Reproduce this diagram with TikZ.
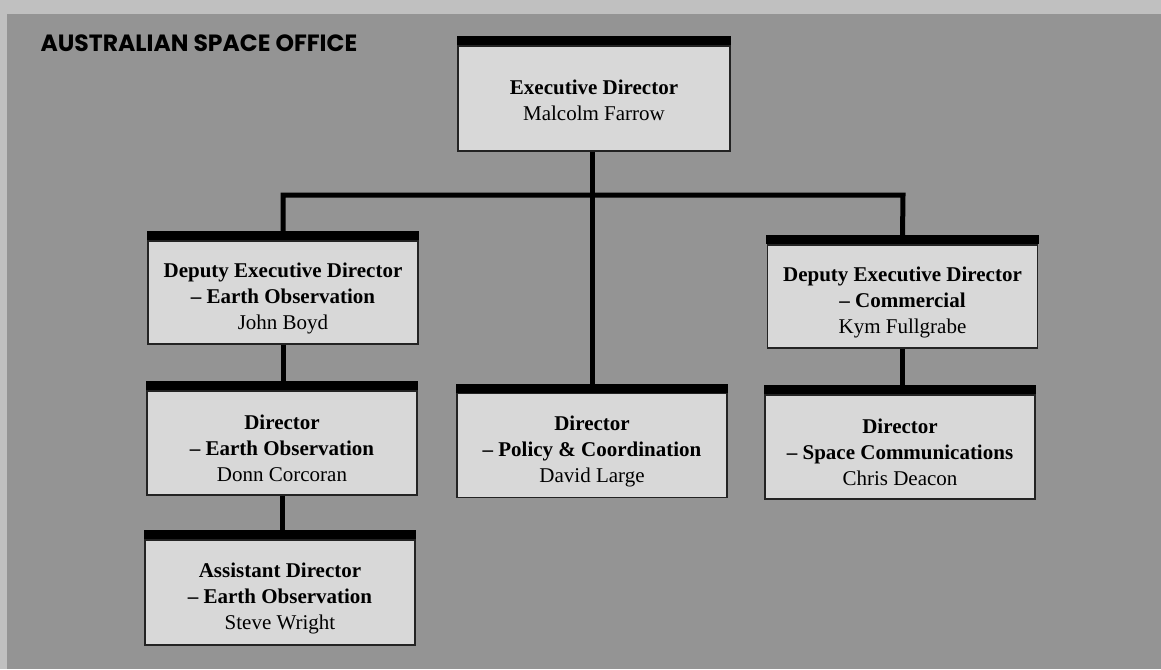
\documentclass[tikz,border=0pt]{standalone}
\usepackage{fontspec}
\setmainfont{Liberation Serif}
\newfontfamily\titlefont{Poppins}
\definecolor{panel}{RGB}{148,148,148}
\definecolor{paper}{RGB}{192,192,192}
\definecolor{boxfill}{RGB}{216,216,216}
\definecolor{boxline}{RGB}{35,35,35}
\tikzset{
  orgbox/.style={draw=boxline, line width=1.3pt, fill=boxfill, minimum width=270pt,
    minimum height=104pt, inner sep=0pt, align=center, font=\fontsize{21}{26}\selectfont},
  conn/.style={line width=5pt, black},
  topbar/.style={fill=black}
}
\newcommand{\ttl}[1]{\textbf{#1}}
\newcommand{\lowstrut}{\rule{0pt}{26pt}}
\begin{document}
\begin{tikzpicture}[x=1pt,y=-1pt]
\useasboundingbox (0,0) rectangle (1161,669);
\fill[paper] (0,0) rectangle (1161,669);
\fill[panel] (7,14) rectangle (1161,669);
\node[anchor=base west, font=\titlefont\bfseries\fontsize{23.5}{28}\selectfont] (title) at (37,52) {AUSTRALIAN SPACE OFFICE};
% boxes
\node[orgbox, minimum width=272pt, minimum height=105pt] (exec) at (594,98.5) {\rule{0pt}{18pt}\ttl{Executive Director}\\Malcolm Farrow};
\node[orgbox, minimum height=103pt] (depEO) at (283,292.5) {\lowstrut\ttl{Deputy Executive Director}\\\ttl{-- Earth Observation}\\John Boyd};
\node[orgbox, minimum height=103pt] (depCom) at (902.5,296.5) {\lowstrut\ttl{Deputy Executive Director}\\\ttl{-- Commercial}\\Kym Fullgrabe};
\node[orgbox] (dirEO) at (282,443) {\lowstrut\ttl{Director}\\\ttl{-- Earth Observation}\\Donn Corcoran};
\node[orgbox] (dirPol) at (592,445.5) {\lowstrut\ttl{Director}\\\ttl{-- Policy \& Coordination}\\David Large};
\node[orgbox] (dirSC) at (900,447) {\lowstrut\ttl{Director}\\\ttl{-- Space Communications}\\Chris Deacon};
\node[orgbox, minimum height=105pt] (asst) at (280,592.5) {\lowstrut\ttl{Assistant Director}\\\ttl{-- Earth Observation}\\Steve Wright};
\foreach \n in {exec,depEO,depCom,dirEO,dirPol,dirSC,asst}
  \fill[topbar] ([xshift=-0.65pt]\n.north west) rectangle ([xshift=0.65pt,yshift=9pt]\n.north east);
% connectors
\coordinate (busL) at (283,195);
\coordinate (busR) at (903,195);
\draw[conn] ([yshift=9pt]depEO.north) -- (busL) -- (busR) -- ([yshift=9pt]depCom.north);
\draw[conn] (exec.south -| dirPol.north) -- ([yshift=9pt]dirPol.north);
\draw[conn] (depEO.south) -- ([yshift=9pt]dirEO.north -| depEO.south);
\draw[conn] (dirEO.south) -- ([yshift=9pt]asst.north -| dirEO.south);
\draw[conn] (depCom.south) -- ([yshift=9pt]dirSC.north -| depCom.south);
\end{tikzpicture}
\end{document}
